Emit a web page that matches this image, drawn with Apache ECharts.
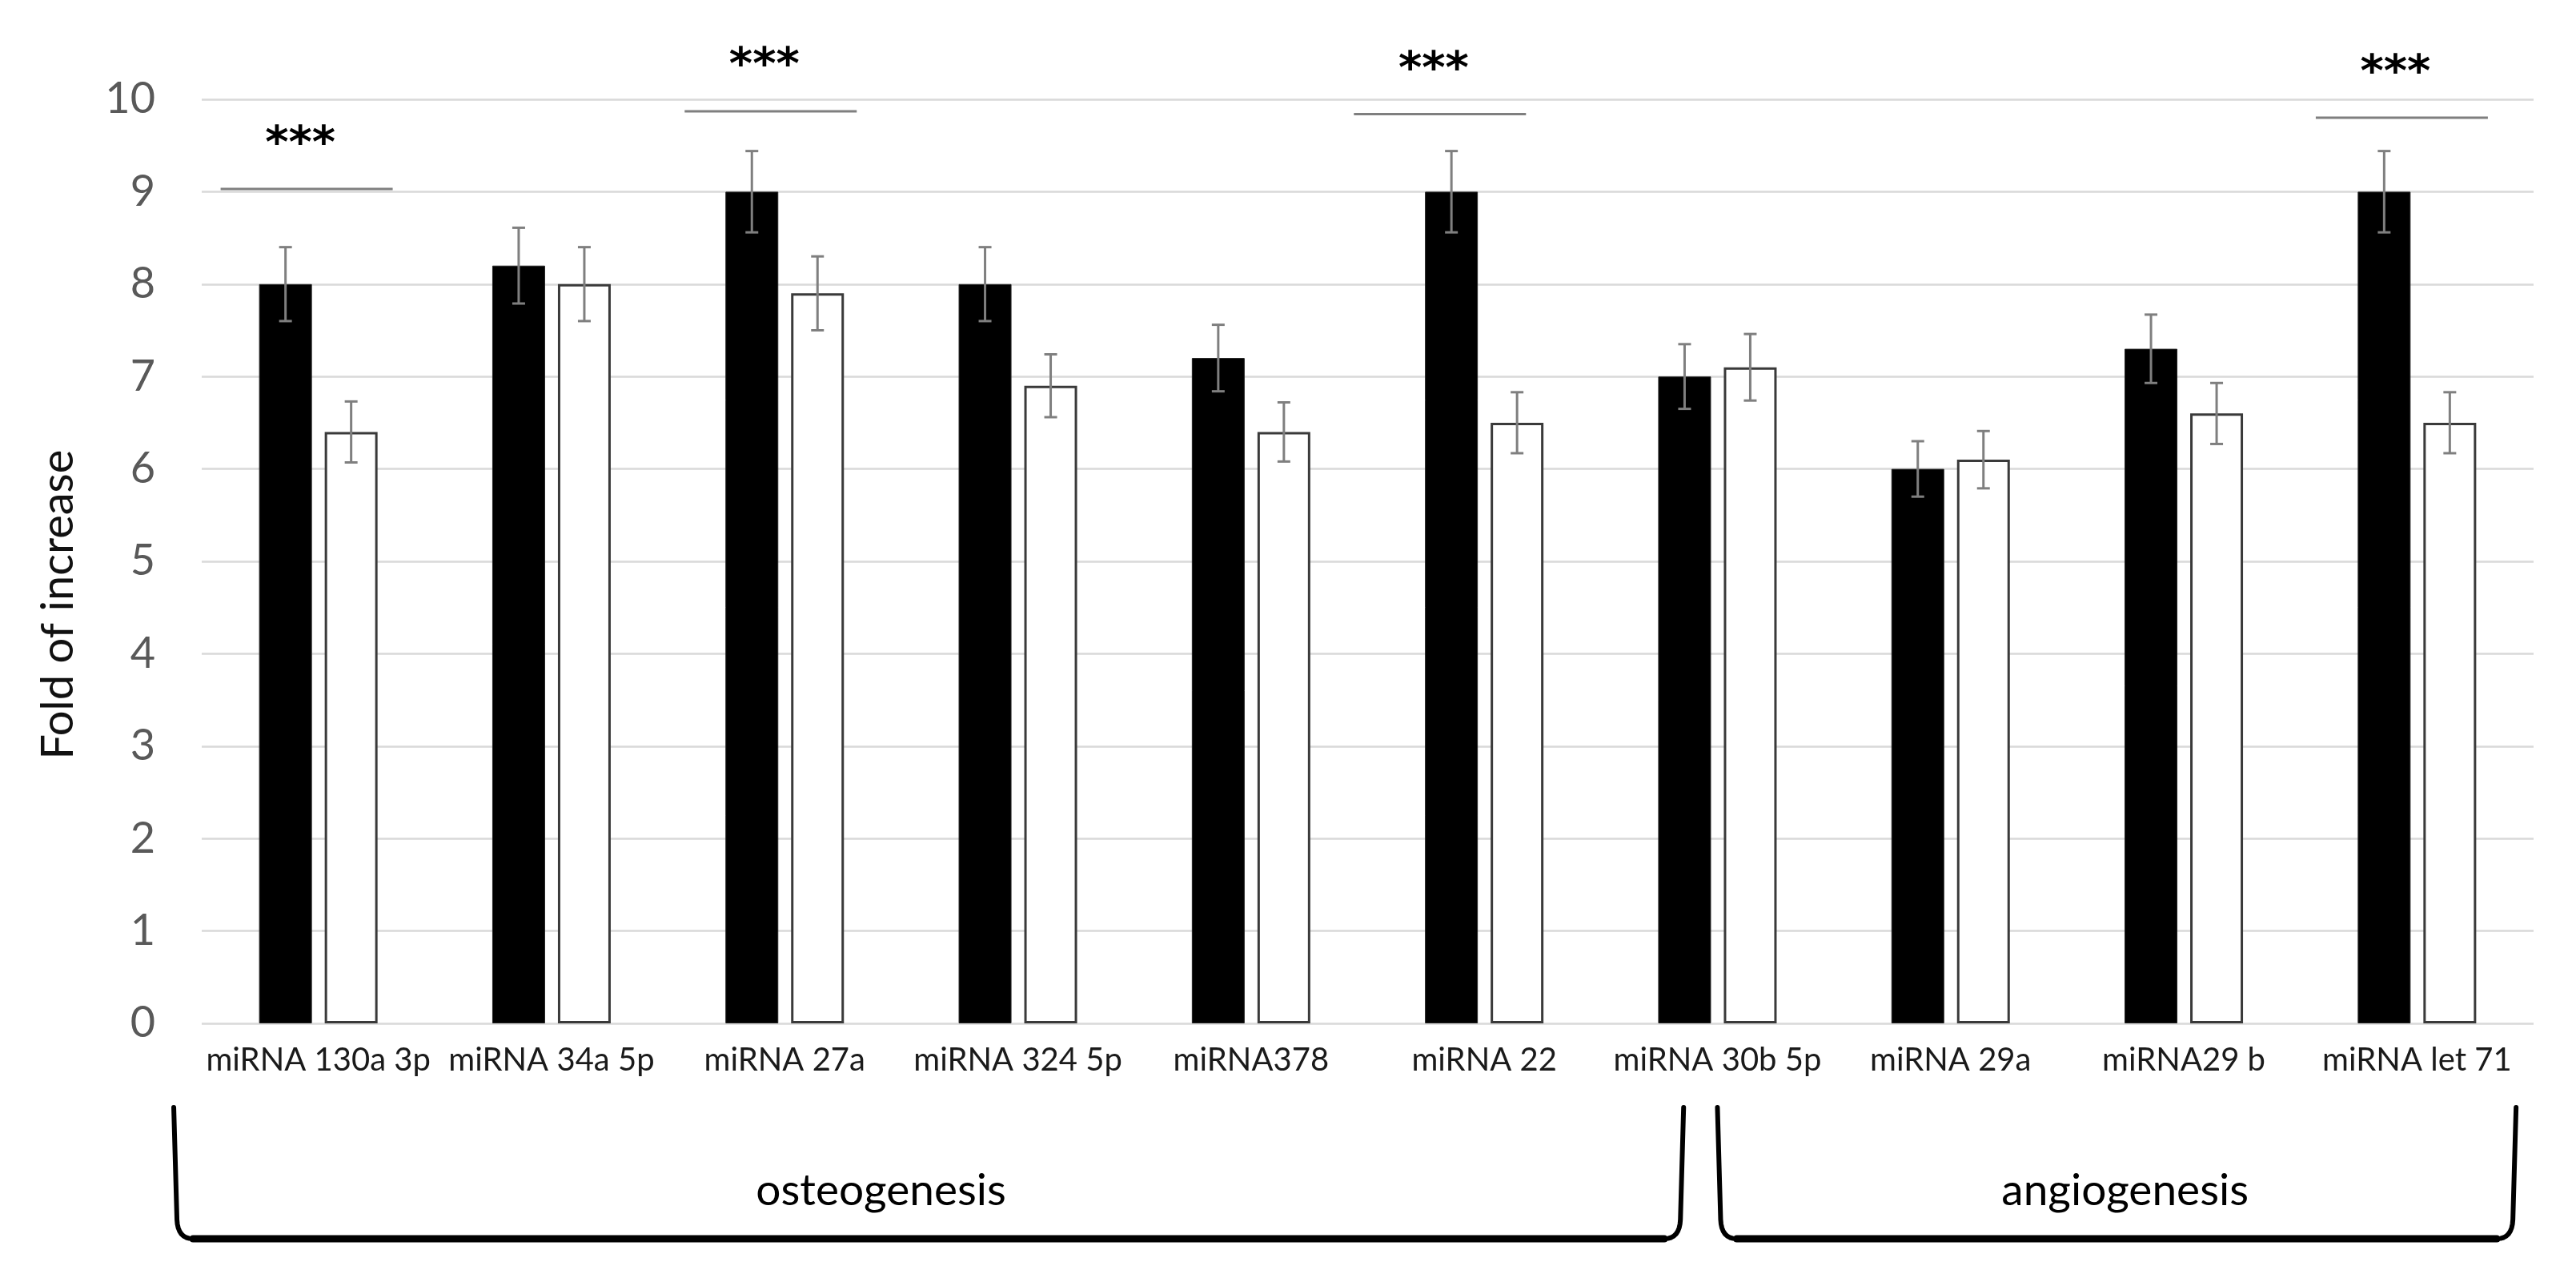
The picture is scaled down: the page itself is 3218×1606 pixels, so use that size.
<!DOCTYPE html>
<html>
<head>
<meta charset="utf-8">
<script src="https://cdn.jsdelivr.net/npm/echarts@6/dist/echarts.min.js"></script>
<style>
html,body{margin:0;padding:0;background:#fff;}
#main{width:3218px;height:1606px;}
</style>
</head>
<body>
<div id="main"></div>
<script>
// ---- data ----
const categories = ['miRNA 130a 3p','miRNA 34a 5p','miRNA 27a','miRNA 324 5p','miRNA378','miRNA 22','miRNA 30b 5p','miRNA 29a','miRNA29 b','miRNA let 71'];
const blackValues = [8.0, 8.2, 9.0, 8.0, 7.2, 9.0, 7.0, 6.0, 7.3, 9.0];
const blackErrors = [0.40, 0.41, 0.44, 0.40, 0.36, 0.44, 0.35, 0.30, 0.37, 0.44];
const whiteValues = [6.4, 8.0, 7.9, 6.9, 6.4, 6.5, 7.1, 6.1, 6.6, 6.5];
const whiteErrors = [0.33, 0.40, 0.40, 0.34, 0.32, 0.33, 0.36, 0.31, 0.33, 0.33];
const yTicks = [0,1,2,3,4,5,6,7,8,9,10];
// significance annotations (centre in category units, line level, star level)
const sigCenters = [-0.05, 1.94, 4.81, 8.935];
const sigLineLevels = [9.03, 9.87, 9.84, 9.80];
const sigStarLevels = [9.50, 10.35, 10.31, 10.27];
const sigText = '***';
// groups (ends and label centre in category units)
const groupNames = ['osteogenesis', 'angiogenesis'];
const groupStart = [-0.62, 6.0];
const groupEnd = [5.855, 9.425];
const groupLabelAt = [2.413, 7.748];
const yTitle = 'Fold of increase';

// ---- styles ----
const FONT = 'Lato, "Open Sans", sans-serif';
const BAR_W = 66, GAP_PX = 16;
const SHIFT = (BAR_W + GAP_PX) / 2;

const chart = echarts.init(document.getElementById('main'), null, {renderer: 'canvas'});

function errRender(sign) {
  return function (params, api) {
    const ci = api.value(0), v = api.value(1), e = api.value(2);
    const c = api.coord([ci, v]);
    const x = c[0] + sign * SHIFT;
    const yT = api.coord([ci, v + e])[1];
    const yB = api.coord([ci, v - e])[1];
    const cap = 8;
    const st = {stroke: '#7f7f7f', lineWidth: 3};
    return {type: 'group', children: [
      {type: 'line', shape: {x1: x, y1: yT, x2: x, y2: yB}, style: st},
      {type: 'line', shape: {x1: x - cap, y1: yT, x2: x + cap, y2: yT}, style: st},
      {type: 'line', shape: {x1: x - cap, y1: yB, x2: x + cap, y2: yB}, style: st}
    ]};
  };
}

const sigData = sigCenters.map((c, i) => {
  const idx = Math.round(c);
  return [idx, sigLineLevels[i], sigStarLevels[i], c - idx];
});

const option = {
  animation: false,
  backgroundColor: '#fff',
  grid: {left: 252, right: 53, top: 124, bottom: 328, containLabel: false},
  xAxis: {
    type: 'category',
    data: categories,
    axisLine: {show: false},
    axisTick: {show: false},
    axisLabel: {fontFamily: FONT, fontSize: 40, color: '#1a1a1a', margin: 26, interval: 0}
  },
  yAxis: {
    type: 'value',
    min: yTicks[0], max: yTicks[yTicks.length - 1], interval: 1,
    axisLine: {show: false},
    axisTick: {show: false},
    axisLabel: {fontFamily: FONT, fontSize: 54, color: '#595959', margin: 58},
    splitLine: {show: true, lineStyle: {color: '#d9d9d9', width: 2.5}}
  },
  series: [
    {type: 'bar', name: 'black', data: blackValues, barWidth: BAR_W, barGap: (GAP_PX / BAR_W * 100) + '%',
      itemStyle: {color: '#000', borderColor: '#222', borderWidth: 1}, z: 2},
    {type: 'bar', name: 'white', data: whiteValues, barWidth: BAR_W,
      itemStyle: {color: '#fff', borderColor: '#3a3a3a', borderWidth: 3}, z: 2},
    {type: 'custom', name: 'errBlack', renderItem: errRender(-1), z: 5,
      data: blackValues.map((v, i) => [i, v, blackErrors[i]])},
    {type: 'custom', name: 'errWhite', renderItem: errRender(1), z: 5,
      data: whiteValues.map((v, i) => [i, v, whiteErrors[i]])},
    {type: 'custom', name: 'sig', z: 6, clip: false,
      data: sigData,
      renderItem: function (params, api) {
        const ci = api.value(0);
        const catW = api.size([1, 0])[0];
        const frac = api.value(3);
        const p = api.coord([ci, api.value(1)]);
        const x = p[0] + frac * catW;
        const half = 0.369 * catW;
        const yS = api.coord([ci, api.value(2)])[1];
        return {type: 'group', children: [
          {type: 'line', shape: {x1: x - half, y1: p[1], x2: x + half, y2: p[1]},
            style: {stroke: '#7f7f7f', lineWidth: 3}},
          {type: 'text', x: x - 8, y: yS,
            style: {text: sigText, fontFamily: '"DejaVu Sans", sans-serif', fontWeight: 'bold', fontSize: 56,
              fill: '#000', align: 'center', verticalAlign: 'middle'}}
        ]};
      }}
  ]
};
chart.setOption(option);

// annotations: y title, group brackets, group labels
const px = function (c) {
  const i = Math.round(c);
  const p0 = chart.convertToPixel({xAxisIndex: 0}, 0);
  const p1 = chart.convertToPixel({xAxisIndex: 0}, 1);
  const pi = chart.convertToPixel({xAxisIndex: 0}, i);
  return pi + (c - i) * (p1 - p0);
};
const yTop = 1383, yBot = 1547, r = 24;
function quad(p0, c, p1, n) {
  const out = [];
  for (let k = 1; k <= n; k++) {
    const t = k / n, u = 1 - t;
    out.push([u * u * p0[0] + 2 * u * t * c[0] + t * t * p1[0], u * u * p0[1] + 2 * u * t * c[1] + t * t * p1[1]]);
  }
  return out;
}
const graphics = [{
  type: 'text', x: 73, y: 755, rotation: Math.PI / 2,
  style: {text: yTitle, fontFamily: FONT, fontSize: 56, fill: '#111', align: 'center', verticalAlign: 'middle'}
}];
groupNames.forEach((g, i) => {
  const x1 = px(groupStart[i]), x2 = px(groupEnd[i]);
  let pts = [[x1, yTop], [x1 + 4, yBot - r]];
  pts = pts.concat(quad([x1 + 4, yBot - r], [x1 + 5, yBot], [x1 + r, yBot], 8));
  pts.push([x2 - r, yBot]);
  pts = pts.concat(quad([x2 - r, yBot], [x2 - 5, yBot], [x2 - 4, yBot - r], 8));
  pts.push([x2, yTop]);
  graphics.push({type: 'polyline', shape: {points: pts},
    style: {stroke: '#000', lineWidth: 6, fill: null, lineJoin: 'round', lineCap: 'round'}});
  graphics.push({type: 'line', shape: {x1: x1 + r, y1: yBot, x2: x2 - r, y2: yBot},
    style: {stroke: '#000', lineWidth: 9, lineCap: 'round'}});
  graphics.push({type: 'text', x: px(groupLabelAt[i]), y: 1487,
    style: {text: g, fontFamily: FONT, fontSize: 55, fill: '#000', align: 'center', verticalAlign: 'middle'}});
});
chart.setOption({graphic: graphics});
</script>
</body>
</html>
